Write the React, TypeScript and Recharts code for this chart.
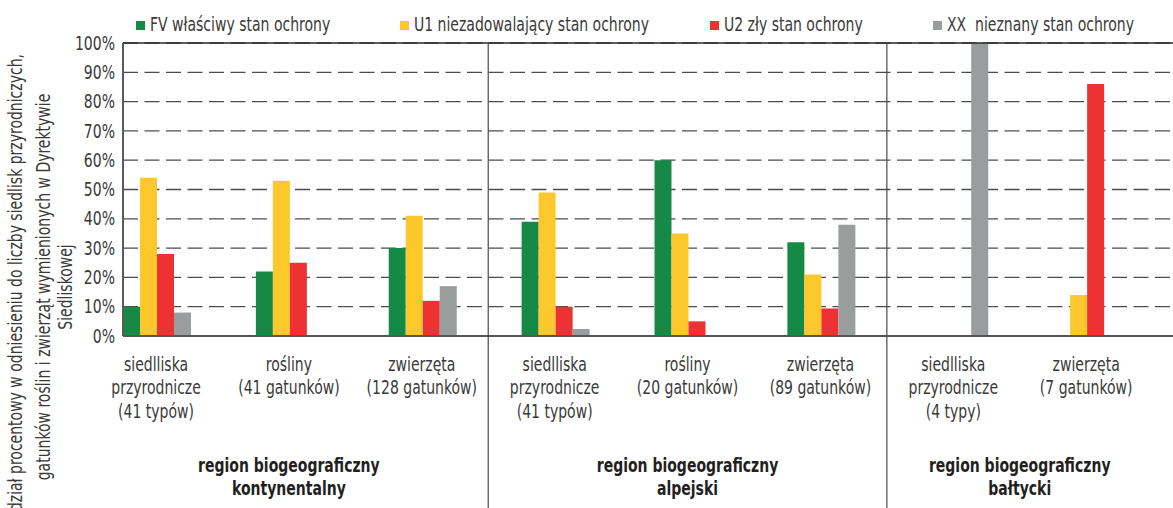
import React from 'react';
import { BarChart, Bar, XAxis, YAxis, CartesianGrid, ReferenceLine } from 'recharts';

const FONT = "'Liberation Sans Narrow', 'DejaVu Sans Condensed', 'Roboto', sans-serif";
const SQUEEZE = 0.82; // the original uses a condensed face

// categories (three regions, 8 groups)
const categories = ['k-siedliska', 'k-rosliny', 'k-zwierzeta', 'a-siedliska', 'a-rosliny', 'a-zwierzeta', 'b-siedliska', 'b-zwierzeta'];
const categoryLines = [
  ['siedlliska', 'przyrodnicze', '(41 typów)'],
  ['rośliny', '(41 gatunków)'],
  ['zwierzęta', '(128 gatunków)'],
  ['siedlliska', 'przyrodnicze', '(41 typów)'],
  ['rośliny', '(20 gatunków)'],
  ['zwierzęta', '(89 gatunków)'],
  ['siedlliska', 'przyrodnicze', '(4 typy)'],
  ['zwierzęta', '(7 gatunków)'],
];

const regionNames = [
  ['region biogeograficzny', 'kontynentalny'],
  ['region biogeograficzny', 'alpejski'],
  ['region biogeograficzny', 'bałtycki'],
];
const regionStarts = [0, 3, 6];
const regionSizes = [3, 3, 2];

// values in %
const fv = [10, 22, 30, 39, 60, 32, 0, 0];
const u1 = [54, 53, 41, 49, 35, 21, 0, 14];
const u2 = [28, 25, 12, 10, 5, 9.4, 0, 86];
const xx = [8, 0, 17, 2.4, 0, 38, 100, 0];

const yTicks = [0, 10, 20, 30, 40, 50, 60, 70, 80, 90, 100];

const series = [
  { key: 'fv', label: 'FV właściwy stan ochrony', color: '#168946' },
  { key: 'u1', label: 'U1 niezadowalający stan ochrony', color: '#fdc82c' },
  { key: 'u2', label: 'U2 zły stan ochrony', color: '#ee3133' },
  { key: 'xx', label: 'XX\u00a0 nieznany stan ochrony', color: '#9a9d9d' },
];
const legendLeft = [136, 400, 710, 933];

const yTitle = [
  'udział procentowy w odniesieniu do liczby siedlisk przyrodniczych,',
  'gatunków roślin i zwierząt wymienionych w Dyrektywie',
  'Siedliskowej',
];
const yTitleX = [15, 43, 65];

const W = 1173;
const H = 508;
const PLOT_TOP = 43;

const data = categories.map((c, i) => ({ name: c, fv: fv[i], u1: u1[i], u2: u2[i], xx: xx[i] }));

const Lines = ({ x, y, lines, first, step, bold, fill }: any) => (
  <g transform={`translate(${x}, ${y}) scale(${SQUEEZE}, 1)`}>
    <text x={0} y={0} textAnchor="middle" fill={fill} fontSize={19} fontWeight={bold ? 'bold' : 'normal'} fontFamily={FONT}>
      {lines.map((t: string, k: number) => (
        <tspan key={k} x={0} dy={k === 0 ? first : step}>{t}</tspan>
      ))}
    </text>
  </g>
);

const CategoryTick = (props: any) => {
  const { x, y, payload } = props;
  const i = categories.indexOf(payload.value);
  const band = payload.offset ? payload.offset * 2 : 133;
  const r = regionStarts.indexOf(i);
  return (
    <g>
      <Lines x={x} y={y} lines={categoryLines[i]} first={27} step={23.5} fill="#3a3a3a" />
      {r >= 0 && (
        <Lines
          x={x + ((regionSizes[r] - 1) * band) / 2}
          y={y}
          lines={regionNames[r]}
          first={128}
          step={23.5}
          bold
          fill="#231f20"
        />
      )}
      {r > 0 && (
        <line x1={x - band / 2} x2={x - band / 2} y1={PLOT_TOP} y2={H} stroke="#4a4a4a" strokeWidth={1.2} />
      )}
    </g>
  );
};

const PercentTick = (props: any) => {
  const { x, y, payload } = props;
  return (
    <g transform={`translate(${x}, ${y}) scale(${SQUEEZE}, 1)`}>
      <text x={0} y={0} dy="0.35em" textAnchor="end" fill="#3a3a3a" fontSize={19} fontFamily={FONT}>
        {`${payload.value}%`}
      </text>
    </g>
  );
};

export default function App() {
  return (
    <div style={{ position: 'absolute', left: 0, top: 0, width: W, height: H, background: '#fff', overflow: 'hidden' }}>
      <BarChart
        width={W}
        height={H}
        data={data}
        margin={{ top: PLOT_TOP, right: 0, bottom: 0, left: 0 }}
        barCategoryGap={33.4}
        barGap={0}
      >
        <CartesianGrid vertical={false} stroke="#4d4d4d" strokeWidth={1.3} strokeDasharray="15 6.5" />
        <YAxis
          type="number"
          domain={[0, 100]}
          ticks={yTicks}
          width={123}
          tickLine={false}
          axisLine={{ stroke: '#5a5a5a', strokeWidth: 2 }}
          tick={<PercentTick />}
          interval={0}
        />
        <XAxis
          dataKey="name"
          type="category"
          height={H - 336}
          interval={0}
          tickLine={false}
          axisLine={{ stroke: '#555', strokeWidth: 2 }}
          padding={{ left: -33.4, right: 20.4 }}
          tick={<CategoryTick />}
        />
        <ReferenceLine y={100} stroke="#2a2a2a" strokeWidth={1.6} />
        {series.map((s) => (
          <Bar key={s.key} dataKey={s.key} fill={s.color} isAnimationActive={false} />
        ))}
      </BarChart>

      <svg width={110} height={H} style={{ position: 'absolute', left: 0, top: 0 }}>
        {yTitle.map((t, k) => (
          <g key={k} transform={`translate(${yTitleX[k]}, 287) rotate(-90) scale(${SQUEEZE}, 1)`}>
            <text x={0} y={0} textAnchor="middle" dominantBaseline="central" fill="#3a3a3a" fontSize={19} fontFamily={FONT}>
              {t}
            </text>
          </g>
        ))}
      </svg>

      {series.map((s, k) => (
        <div
          key={s.key}
          style={{
            position: 'absolute',
            left: legendLeft[k],
            top: 13,
            display: 'flex',
            alignItems: 'center',
            fontFamily: FONT,
            fontSize: 19,
            color: '#3a3a3a',
            whiteSpace: 'pre',
            transform: `scaleX(${SQUEEZE})`,
            transformOrigin: 'left center',
          }}
        >
          <span style={{ display: 'inline-block', width: 11, height: 9, background: s.color, marginRight: 6, marginTop: 2 }} />
          <span>{s.label}</span>
        </div>
      ))}
    </div>
  );
}
